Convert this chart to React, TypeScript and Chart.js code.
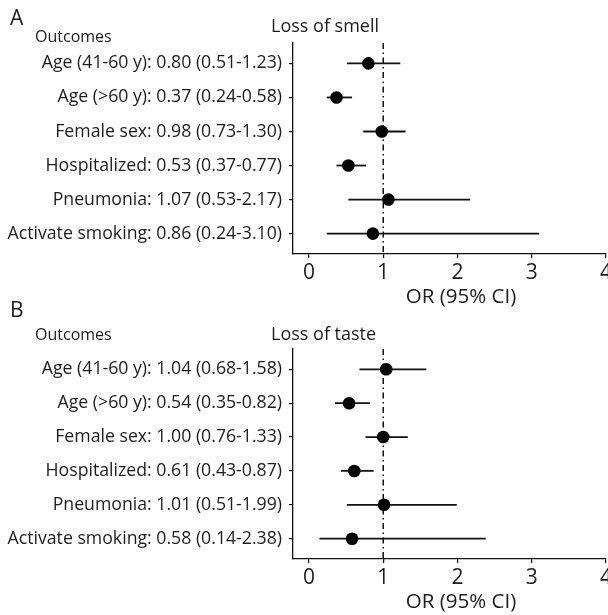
import React, { useEffect, useRef } from "react";
import { Chart, registerables } from "chart.js";

Chart.register(...registerables);

// ---------- data ----------
const outcomeNames = [
  "Age (41-60 y)",
  "Age (>60 y)",
  "Female sex",
  "Hospitalized",
  "Pneumonia",
  "Activate smoking",
];
const rowIndex = [1, 2, 3, 4, 5, 6];

const smellOR = [0.8, 0.37, 0.98, 0.53, 1.07, 0.86];
const smellLow = [0.51, 0.24, 0.73, 0.37, 0.53, 0.24];
const smellHigh = [1.23, 0.58, 1.3, 0.77, 2.17, 3.1];

const tasteOR = [1.04, 0.54, 1.0, 0.61, 1.01, 0.58];
const tasteLow = [0.68, 0.35, 0.76, 0.43, 0.51, 0.14];
const tasteHigh = [1.58, 0.82, 1.33, 0.87, 1.99, 2.38];

const xTicks = [0, 1, 2, 3, 4];
const referenceOR = 1;

// ---------- styling ----------
const FONT = "'Open Sans', 'DejaVu Sans', sans-serif";
const TEXT = "#1c1c1c";
const INK = "#111";

function makeLabels(or: number[], lo: number[], hi: number[]) {
  return outcomeNames.map(
    (n, i) => `${n}: ${or[i].toFixed(2)} (${lo[i].toFixed(2)}-${hi[i].toFixed(2)})`
  );
}

type PanelProps = {
  letter: string;
  title: string;
  or: number[];
  lo: number[];
  hi: number[];
  canvasTop: number;
  canvasHeight: number;
  areaTop: number;
  areaBottom: number;
  letterBase: number;
  outcomesBase: number;
  titleBase: number;
  xTitleBase: number;
};

const CANVAS_W = 640;
const AREA_LEFT = 293;
const AREA_RIGHT = 606;
const X_MIN = -0.2155;
const X_MAX = 4;

function Panel(p: PanelProps) {
  const ref = useRef<HTMLCanvasElement>(null);
  useEffect(() => {
    if (!ref.current) return;
    const labels = makeLabels(p.or, p.lo, p.hi);
    const ciSets = rowIndex.map((r, i) => ({
      type: "line" as const,
      data: [
        { x: p.lo[i], y: r },
        { x: p.hi[i], y: r },
      ],
      borderColor: INK,
      borderWidth: 1.8,
      pointRadius: 0,
      showLine: true,
    }));
    const textPlugin = {
      id: "panelText",
      afterDraw(chart: any) {
        const ctx = chart.ctx;
        const t = p.canvasTop;
        ctx.save();
        ctx.fillStyle = TEXT;
        ctx.textBaseline = "alphabetic";
        ctx.textAlign = "left";
        ctx.font = `21px ${FONT}`;
        ctx.fillText(p.letter, 10, p.letterBase - t);
        ctx.font = `16px ${FONT}`;
        ctx.fillText("Outcomes", 35, p.outcomesBase - t);
        ctx.font = `18px ${FONT}`;
        ctx.fillText(p.title, 271, p.titleBase - t);
        ctx.textAlign = "center";
        ctx.font = `20.5px ${FONT}`;
        ctx.fillText("OR (95% CI)", 461, p.xTitleBase - t);
        ctx.restore();
      },
    };
    const chart = new Chart(ref.current, {
      type: "scatter",
      data: {
        datasets: [
          {
            type: "scatter",
            data: rowIndex.map((r, i) => ({ x: p.or[i], y: r })),
            backgroundColor: "#000",
            borderColor: "#000",
            borderWidth: 0,
            pointRadius: 6.3,
          } as any,
          ...ciSets,
          {
            type: "line",
            data: [
              { x: referenceOR, y: 0.4 },
              { x: referenceOR, y: 6.6 },
            ],
            borderColor: INK,
            borderWidth: 1.5,
            borderDash: [6, 3.5, 1.5, 3.5],
            pointRadius: 0,
            showLine: true,
          },
        ],
      },
      options: {
        animation: false,
        responsive: false,
        devicePixelRatio: 1,
        layout: {
          padding: {
            left: 0,
            top: p.areaTop - p.canvasTop,
            right: CANVAS_W - AREA_RIGHT,
            bottom: 0,
          },
        },
        plugins: {
          legend: { display: false },
          tooltip: { enabled: false },
          title: { display: false },
        },
        scales: {
          x: {
            type: "linear",
            min: X_MIN,
            max: X_MAX,
            afterBuildTicks: (s: any) => {
              s.ticks = xTicks.map((v) => ({ value: v }));
            },
            afterFit: (s: any) => {
              s.height = p.canvasTop + p.canvasHeight - p.areaBottom;
            },
            ticks: {
              autoSkip: false,
              maxRotation: 0,
              padding: 2,
              color: TEXT,
              font: { family: FONT, size: 21 },
              callback: (v: any) => String(v),
            },
            grid: {
              display: true,
              drawOnChartArea: false,
              drawTicks: true,
              tickLength: 4,
              color: INK,
              lineWidth: 1.2,
            },
            border: { display: true, color: INK, width: 1.3 },
          },
          y: {
            type: "linear",
            min: 0.4,
            max: 6.6,
            reverse: true,
            afterBuildTicks: (s: any) => {
              s.ticks = rowIndex.map((v) => ({ value: v }));
            },
            afterFit: (s: any) => {
              s.width = AREA_LEFT;
            },
            ticks: {
              autoSkip: false,
              padding: 7,
              color: TEXT,
              font: { family: FONT, size: 17.7 },
              callback: (v: any) => labels[Math.round(Number(v)) - 1] ?? "",
            },
            grid: {
              display: true,
              drawOnChartArea: false,
              drawTicks: true,
              tickLength: 4,
              color: INK,
              lineWidth: 1.2,
            },
            border: { display: true, color: INK, width: 1.3 },
          },
        },
      } as any,
      plugins: [textPlugin],
    });
    return () => chart.destroy();
  }, []);
  return (
    <canvas
      ref={ref}
      width={CANVAS_W}
      height={p.canvasHeight}
      style={{
        position: "absolute",
        left: 0,
        top: p.canvasTop,
        width: CANVAS_W,
        height: p.canvasHeight,
      }}
    />
  );
}

export default function App() {
  return (
    <div
      style={{
        position: "absolute",
        left: 0,
        top: 0,
        width: 608,
        height: 615,
        overflow: "hidden",
        background: "#fff",
      }}
    >
      <Panel
        letter="A"
        title="Loss of smell"
        or={smellOR}
        lo={smellLow}
        hi={smellHigh}
        canvasTop={0}
        canvasHeight={310}
        areaTop={43}
        areaBottom={254}
        letterBase={25}
        outcomesBase={42}
        titleBase={32}
        xTitleBase={303}
      />
      <Panel
        letter="B"
        title="Loss of taste"
        or={tasteOR}
        lo={tasteLow}
        hi={tasteHigh}
        canvasTop={300}
        canvasHeight={315}
        areaTop={349}
        areaBottom={559}
        letterBase={317}
        outcomesBase={340}
        titleBase={340}
        xTitleBase={608}
      />
    </div>
  );
}
